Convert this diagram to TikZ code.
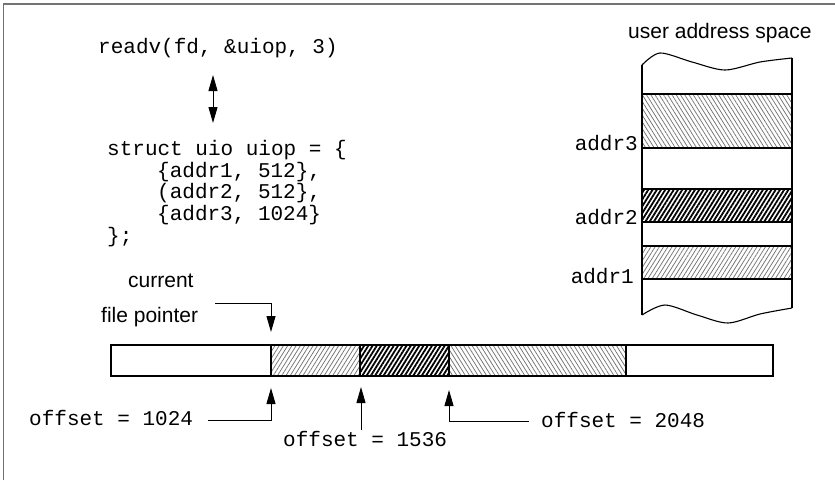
\documentclass[tikz,border=0pt]{standalone}
\usepackage{fontspec}
\setmainfont{Liberation Sans}
\newfontfamily\codefont{Liberation Mono}
\usetikzlibrary{arrows.meta,patterns.meta}

\tikzset{
  code/.style={font=\codefont\fontsize{21}{22}\selectfont, inner sep=0pt, anchor=base west},
  codeR/.style={code, anchor=base east},
  label/.style={font=\fontsize{21}{24}\selectfont, inner sep=0pt, anchor=base west},
  edge/.style={line width=1.1pt},
  ptr/.style={line width=1pt, -{Triangle[length=16pt,width=9pt]}},
  lighthatch/.style={pattern={Lines[angle=#1,distance=3.6pt,line width=0.75pt]}, pattern color=black!55},
  darkhatch/.style={pattern={Lines[angle=#1,distance=3.6pt,line width=1.8pt]}, pattern color=black},
}

\begin{document}
\begin{tikzpicture}[x=1pt,y=-1pt]
\useasboundingbox (0,0) rectangle (835,480);

% page frame (top and left edges only)
\draw[black!55, line width=1.5pt] (3.5,480) -- (3.5,4) -- (835,4);

% system call and iovec declaration
\node[code] (readv) at (98,53) {readv(fd, \&uiop, 3)};
\node[code] (s0) at (107,155) {struct uio uiop = \{};
\node[code] (s1) at (157,177) {\{addr1, 512\},};
\node[code] (s2) at (157,198.5) {(addr2, 512\},};
\node[code] (s3) at (157,220) {\{addr3, 1024\}};
\node[code] (s4) at (107,242) {\};};

\coordinate (dtop) at (213,75);
\coordinate (dbot) at (213,123);
\draw[line width=1pt, {Triangle[length=16pt,width=9pt]}-{Triangle[length=16pt,width=9pt]}] (dtop) -- (dbot);

% user address space column
\node[label] (uas) at (628,38) {user address space};

\fill[lighthatch=122] (642,94) rectangle (792,148);
\fill[darkhatch=58] (642,189) rectangle (792,222);
\fill[lighthatch=58] (642,246) rectangle (792,279);
\foreach \y in {94,148,189,222,246,279}
  \draw[edge] (642,\y) -- (792,\y);

\draw[edge] plot[smooth] coordinates {(642,65) (660,53) (692,62) (725,70) (760,62) (792,58)};
\draw[edge] plot[smooth] coordinates {(642,315) (665,305) (697,315) (728,323) (760,314) (792,308)};
\draw[edge] (642,65) -- (642,315);
\draw[edge] (792,58) -- (792,308);

\node[codeR] (a3) at (638,150) {addr3};
\node[codeR] (a2) at (638,224) {addr2};
\node[codeR] (a1) at (634,283) {addr1};

% file bar
\fill[lighthatch=58] (271,345) rectangle (360,376);
\fill[darkhatch=58] (360,345) rectangle (449,376);
\fill[lighthatch=122] (449,345) rectangle (626,376);
\draw[edge] (111,345) rectangle (773,376);
\foreach \x in {271,360,449,626}
  \draw[edge] (\x,345) -- (\x,376);

% current file pointer
\node[label] (cur) at (128,287) {current};
\node[label] (fp) at (101,322) {file pointer};
\coordinate (fpstart) at (215,303);
\coordinate (fptip) at (271,332);
\draw[ptr] (fpstart) -| (fptip);

% offsets
\node[code] (o1) at (29,425) {offset = 1024};
\coordinate (o1start) at (208,420);
\coordinate (o1tip) at (271,388);
\draw[ptr] (o1start) -| (o1tip);

\node[code] (o2) at (283,446) {offset = 1536};
\coordinate (o2start) at (361,430);
\coordinate (o2tip) at (361,387);
\draw[ptr] (o2start) -- (o2tip);

\node[code] (o3) at (541,427) {offset = 2048};
\coordinate (o3start) at (529,421);
\coordinate (o3tip) at (449,390);
\draw[ptr] (o3start) -| (o3tip);
\end{tikzpicture}
\end{document}
